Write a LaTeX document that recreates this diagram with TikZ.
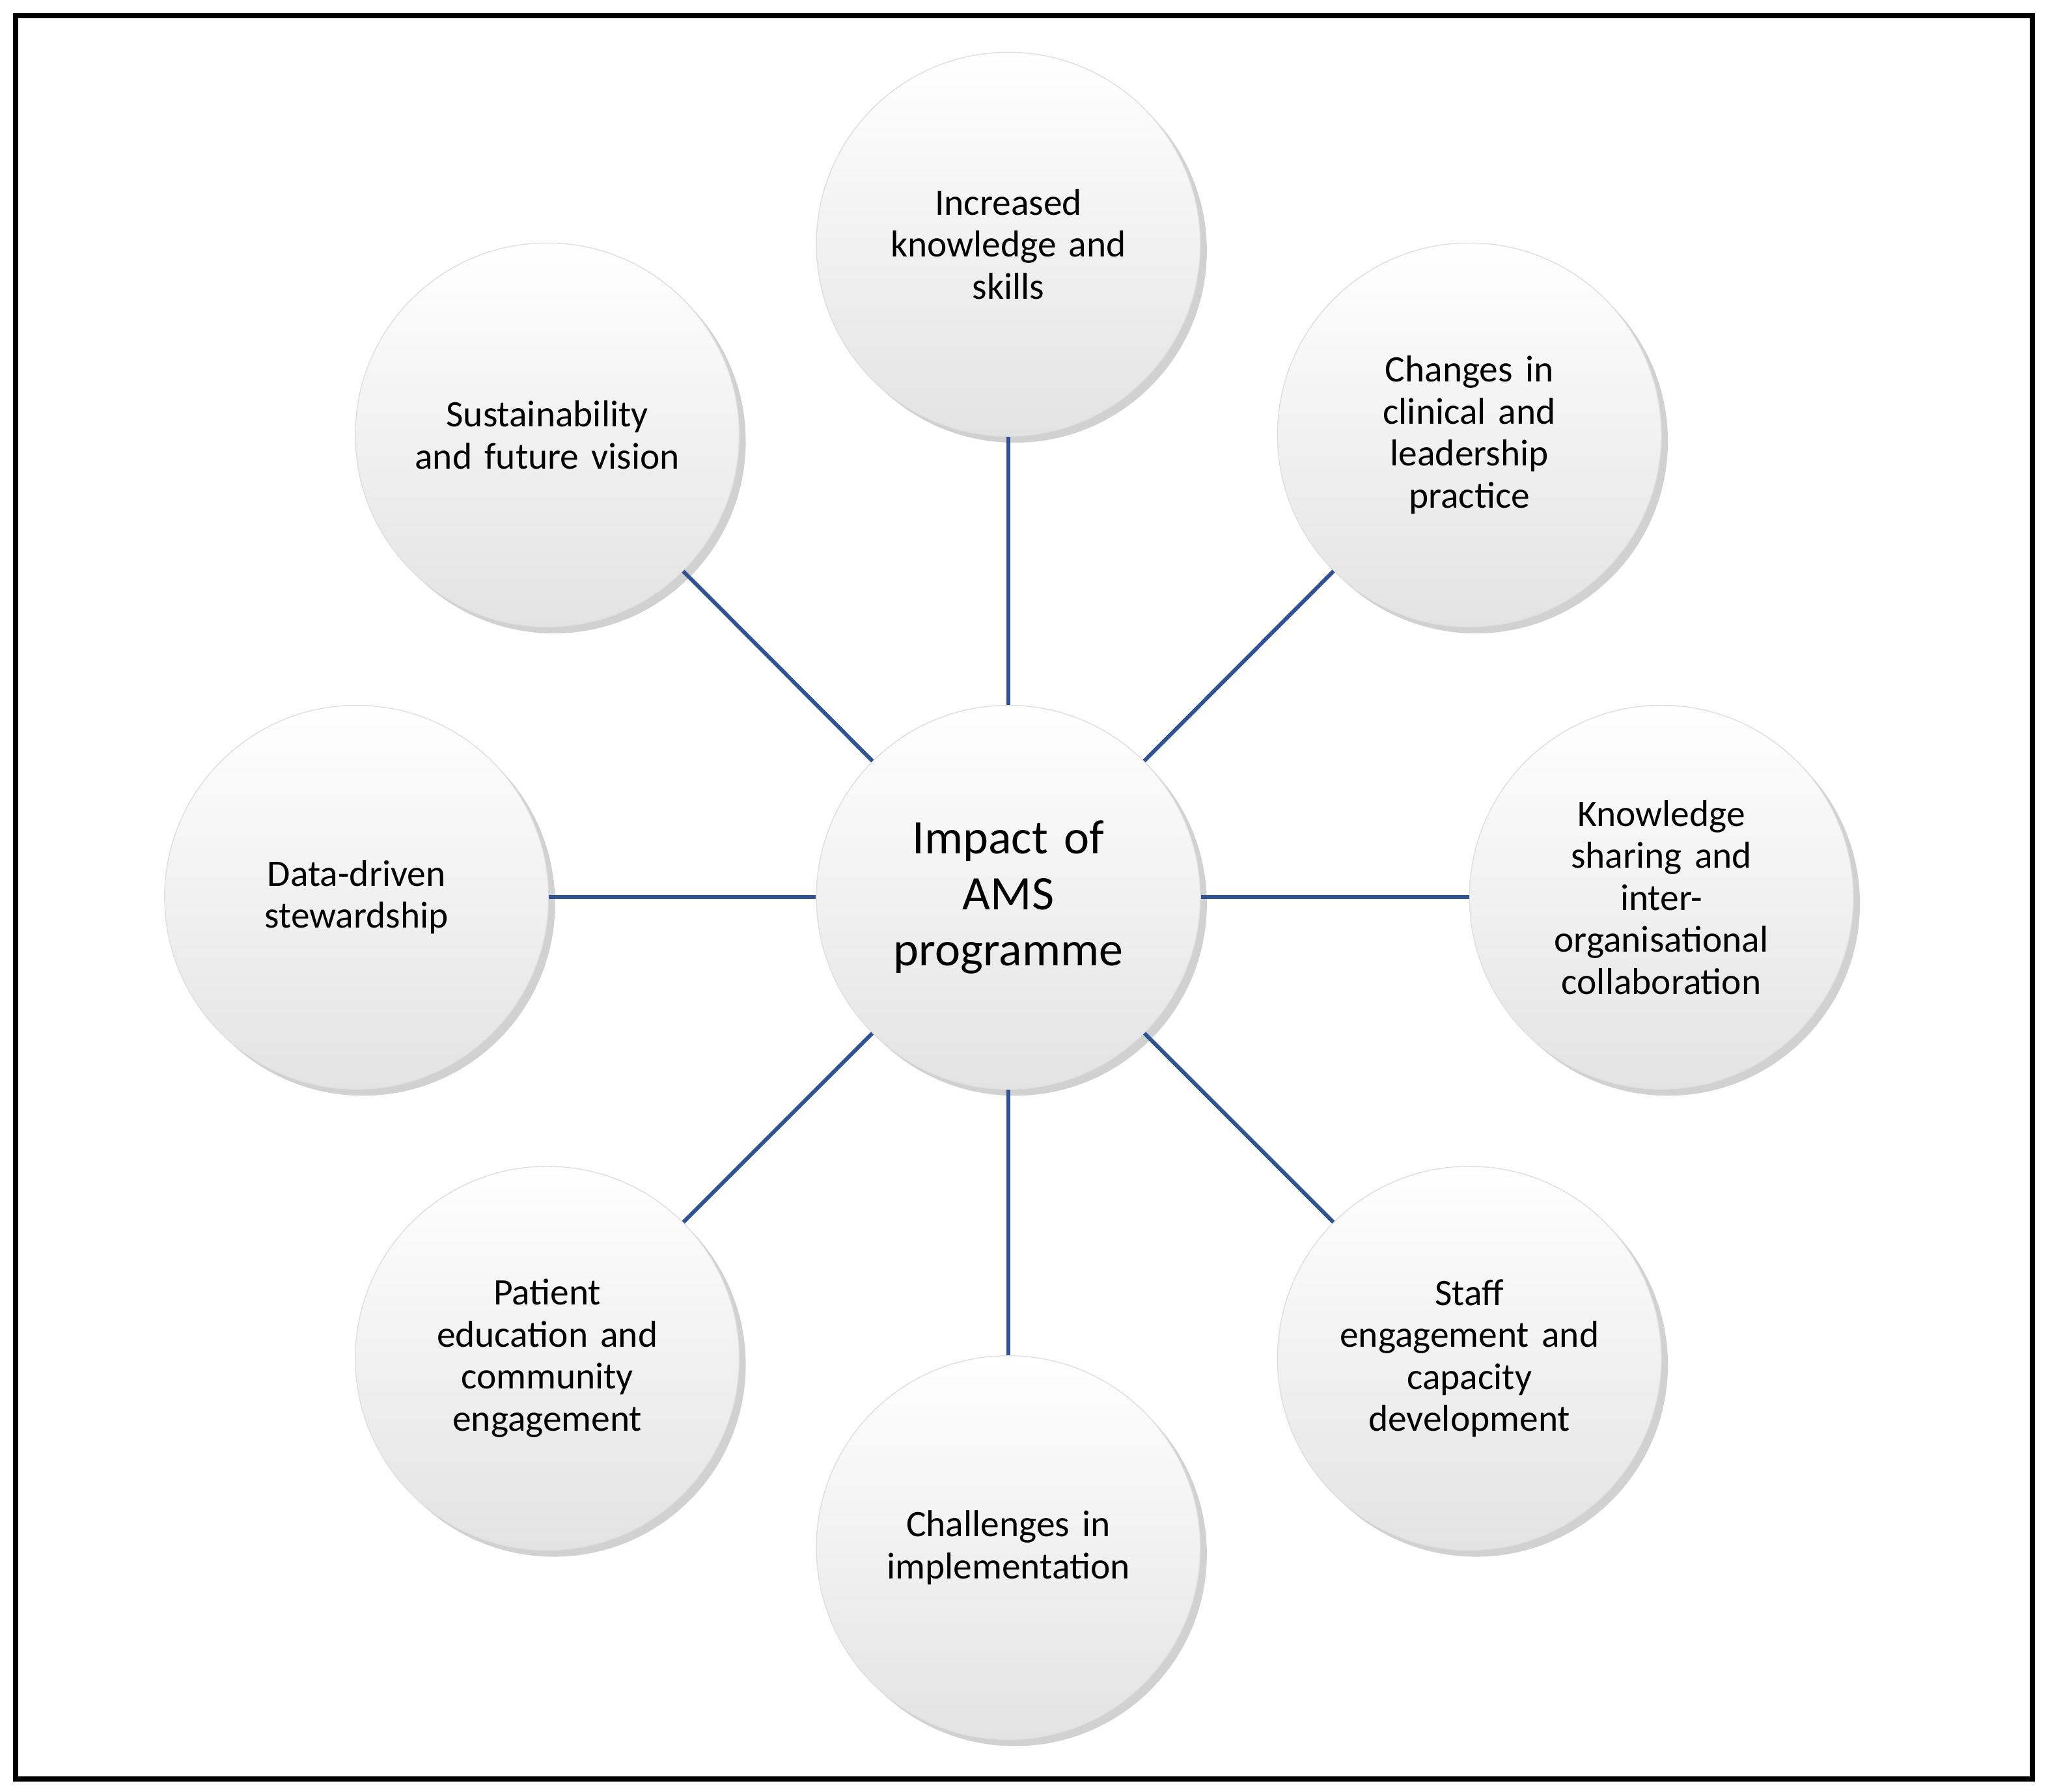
\documentclass[tikz,border=0pt]{standalone}
\usepackage{fontspec}
\setmainfont{Carlito}
\usetikzlibrary{positioning,shadows}
\definecolor{linkblue}{RGB}{47,84,150}
\begin{document}
\begin{tikzpicture}[x=0.02cm,y=-0.02cm,
        theme/.style={circle, minimum size=5.88cm, inner sep=0pt, align=center,
            draw=gray!25, top color=white, bottom color=gray!22,
            drop shadow={shadow xshift=0.1cm, shadow yshift=-0.1cm, fill=black, opacity=0.18},
            font=\fontsize{16.3}{18.3}\selectfont, text width=4.4cm},
        hub/.style={theme, font=\fontsize{21}{24.5}\selectfont},
        link/.style={draw=linkblue, line width=1.7pt}
    ]
    % frame
    \useasboundingbox (0,0) rectangle (1568,1372);
    \draw[line width=2.2pt] (12,12) rectangle (1556,1362);

    % centre
    \node[hub] (impact) at (772,687) {Impact of\\AMS\\programme};

    % themes
    \node[theme] (knowledge) at (772,187) {Increased\\knowledge and\\skills};
    \node[theme] (practice) at (1125,333) {Changes in\\clinical and\\leadership\\practice};
    \node[theme] (sharing) at (1272,687) {Knowledge\\sharing and\\inter-\\organisational\\collaboration};
    \node[theme] (staff) at (1125,1040) {Staff\\engagement and\\capacity\\development};
    \node[theme] (challenges) at (772,1185) {Challenges in\\implementation};
    \node[theme] (patient) at (419,1040) {Patient\\education and\\community\\engagement};
    \node[theme] (data) at (273,687) {Data-driven\\stewardship};
    \node[theme] (vision) at (419,333) {Sustainability\\and future vision};

    % links
    \foreach \t in {knowledge,practice,sharing,staff,challenges,patient,data,vision}
        \draw[link] (impact) -- (\t);
\end{tikzpicture}
\end{document}
